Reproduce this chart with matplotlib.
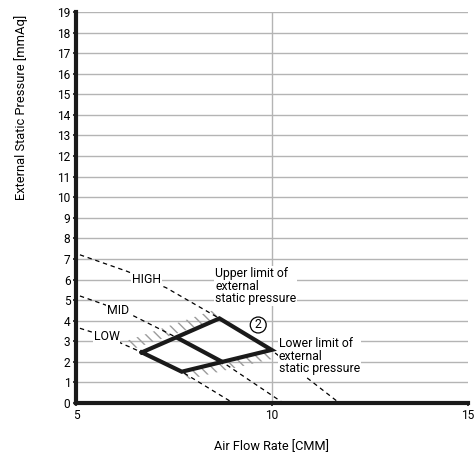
"""
Fan performance chart: external static pressure vs air flow rate.
"""
import numpy as np
import matplotlib
matplotlib.use("Agg")
import matplotlib.pyplot as plt
from matplotlib.patches import Polygon

plt.rcParams['font.family'] = ['Roboto', 'DejaVu Sans']
plt.rcParams['hatch.linewidth'] = 1.0

# fan curves
high_x = [5.1, 6.3, 7.3, 8.66, 10.0, 11.72]
high_y = [7.2, 6.4, 5.6, 4.11, 2.55, 0.0]
mid_x = [5.1, 5.7, 6.4, 7.61, 8.72, 10.29]
mid_y = [5.2, 4.8, 4.3, 3.14, 2.01, 0.0]
low_x = [5.1, 5.78, 6.68, 7.70, 9.01]
low_y = [3.63, 3.22, 2.46, 1.52, 0.0]

# operating area (corners: left, top, right, bottom)
area_x = [6.68, 8.66, 9.99, 7.70]
area_y = [2.46, 4.11, 2.58, 1.52]
inner_x = [7.61, 8.72]
inner_y = [3.14, 2.01]

y_ticks = list(range(0, 20))
x_ticks = [5, 10, 15]

fig = plt.figure(figsize=(4.75, 4.59), dpi=100)
ax = fig.add_axes([0.160, 0.122, 0.825, 0.852])
ax.set_xlim(5, 15)
ax.set_ylim(0, 19)

# grid
for yv in y_ticks[1:]:
    ax.axhline(yv, color='#b4b4b4', lw=1.0, zorder=0)
ax.axvline(10, color='#b4b4b4', lw=1.0, zorder=0)

# hatched strips along the limit edges
def strip(p0, p1, off):
    pts = [p0, p1, (p1[0] + off[0], p1[1] + off[1]), (p0[0] + off[0], p0[1] + off[1])]
    ax.add_patch(Polygon(pts, closed=True, fill=False, hatch='\\\\\\',
                         edgecolor='#9c9c9c', lw=0, zorder=1))

left = (area_x[0], area_y[0])
top = (area_x[1], area_y[1])
right = (area_x[2], area_y[2])
bottom = (area_x[3], area_y[3])
strip((left[0] - 0.25, left[1] + 0.15), top, (-0.12, 0.42))
strip(bottom, right, (0.1, -0.4))

# fan curves
for xs, ys in [(high_x, high_y), (mid_x, mid_y), (low_x, low_y)]:
    ax.plot(xs, ys, color='black', lw=0.9, ls=(0, (3.5, 3)), zorder=2)

# operating area
ax.plot(area_x + area_x[:1], area_y + area_y[:1], color='#1a1a1a', lw=3.0,
        solid_joinstyle='miter', zorder=3)
ax.plot(inner_x, inner_y, color='#1a1a1a', lw=3.0, zorder=3)

box = dict(facecolor='white', edgecolor='none', pad=0.6)
fs = 8.8
ax.text(6.79, 6.0, 'HIGH', ha='center', va='center', fontsize=fs, bbox=box, zorder=4)
ax.text(6.08, 4.47, 'MID', ha='center', va='center', fontsize=fs, bbox=box, zorder=4)
ax.text(5.78, 3.22, 'LOW', ha='center', va='center', fontsize=fs, bbox=box, zorder=4)
ax.text(8.55, 6.62, 'Upper limit of\nexternal\nstatic pressure', ha='left', va='top',
        fontsize=fs, linespacing=0.98, bbox=box, zorder=4)
ax.text(10.18, 3.22, 'Lower limit of\nexternal\nstatic pressure', ha='left', va='top',
        fontsize=fs, linespacing=0.98, bbox=box, zorder=4)
ax.text(9.65, 3.79, '2', ha='center', va='center', fontsize=fs,
        bbox=dict(boxstyle='circle,pad=0.12', facecolor='white', edgecolor='black', lw=0.9),
        zorder=4)

# axes styling
for s in ['top', 'right']:
    ax.spines[s].set_visible(False)
ax.spines['left'].set_linewidth(3.0)
ax.spines['bottom'].set_linewidth(3.0)
ax.spines['left'].set_color('#1a1a1a')
ax.spines['bottom'].set_color('#1a1a1a')
ax.set_yticks(y_ticks)
ax.set_xticks(x_ticks)
ax.tick_params(axis='both', direction='out', length=2, width=1.2, labelsize=8.6,
               color='#1a1a1a', pad=2)

ax.set_xlabel('Air Flow Rate [CMM]', fontsize=9.2)
ax.xaxis.set_label_coords(0.5, -0.095)
ax.set_ylabel('External Static Pressure [mmAq]', fontsize=9.3)
ax.yaxis.set_label_coords(-0.122, 0.757)

fig.savefig('out.png', dpi=100)
